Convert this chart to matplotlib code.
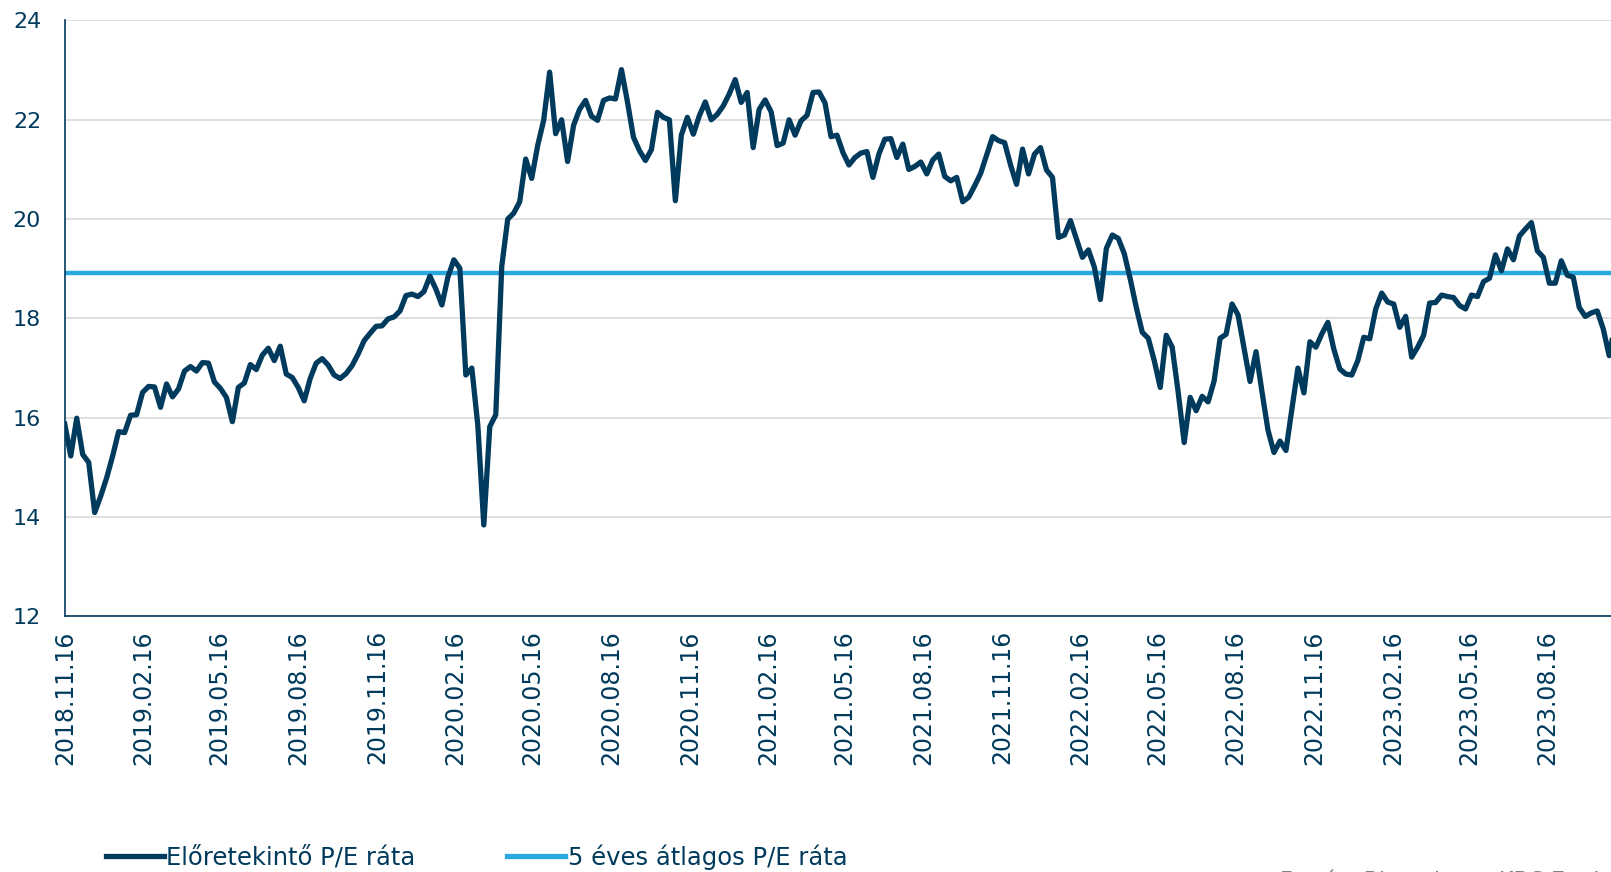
#Forward P/E ratio vs 5 year average - line chart

import numpy as np
import pandas as pd
import matplotlib
matplotlib.use('Agg')
import matplotlib.pyplot as plt
import matplotlib.dates as mdates
from matplotlib.lines import Line2D

#weekly data
start_date = '2018-11-16'
pe_fwd = [15.87, 15.23, 15.99, 15.26, 15.10, 14.09, 14.42, 14.79, 15.23, 15.72,
          15.70, 16.05, 16.06, 16.51, 16.63, 16.62, 16.21, 16.68, 16.42, 16.58,
          16.94, 17.03, 16.94, 17.11, 17.10, 16.72, 16.59, 16.41, 15.92, 16.61,
          16.70, 17.07, 16.97, 17.26, 17.40, 17.15, 17.44, 16.88, 16.81, 16.61,
          16.34, 16.79, 17.10, 17.19, 17.06, 16.86, 16.79, 16.89, 17.05, 17.28,
          17.55, 17.70, 17.84, 17.85, 17.99, 18.03, 18.15, 18.46, 18.49, 18.44,
          18.54, 18.85, 18.59, 18.27, 18.83, 19.18, 19.01, 16.86, 17.00, 15.85,
          13.84, 15.82, 16.06, 19.05, 20.00, 20.12, 20.35, 21.21, 20.82, 21.48,
          21.99, 22.96, 21.72, 22.00, 21.16, 21.89, 22.21, 22.39, 22.07, 21.99,
          22.39, 22.44, 22.42, 23.01, 22.36, 21.65, 21.38, 21.18, 21.40, 22.15,
          22.05, 22.00, 20.37, 21.69, 22.05, 21.71, 22.08, 22.36, 22.00, 22.11,
          22.28, 22.52, 22.81, 22.35, 22.55, 21.44, 22.21, 22.40, 22.16, 21.48,
          21.53, 22.00, 21.69, 21.98, 22.09, 22.55, 22.56, 22.34, 21.66, 21.69,
          21.34, 21.09, 21.24, 21.33, 21.36, 20.84, 21.31, 21.61, 21.62, 21.24,
          21.51, 21.00, 21.06, 21.15, 20.91, 21.19, 21.31, 20.86, 20.77, 20.84,
          20.35, 20.44, 20.67, 20.92, 21.29, 21.66, 21.58, 21.54, 21.09, 20.70,
          21.41, 20.91, 21.31, 21.44, 20.99, 20.84, 19.63, 19.68, 19.97, 19.60,
          19.23, 19.38, 19.03, 18.38, 19.41, 19.68, 19.61, 19.30, 18.79, 18.22,
          17.72, 17.60, 17.15, 16.61, 17.66, 17.42, 16.51, 15.50, 16.41, 16.14,
          16.43, 16.32, 16.74, 17.60, 17.68, 18.29, 18.07, 17.40, 16.73, 17.33,
          16.52, 15.75, 15.30, 15.53, 15.34, 16.18, 17.00, 16.50, 17.53, 17.42,
          17.69, 17.92, 17.38, 16.98, 16.88, 16.86, 17.15, 17.62, 17.59, 18.19,
          18.51, 18.33, 18.29, 17.82, 18.04, 17.22, 17.42, 17.66, 18.31, 18.32,
          18.47, 18.44, 18.42, 18.26, 18.19, 18.47, 18.44, 18.74, 18.81, 19.28,
          18.96, 19.40, 19.18, 19.66, 19.80, 19.93, 19.36, 19.23, 18.71, 18.71,
          19.16, 18.87, 18.83, 18.22, 18.04, 18.11, 18.15, 17.79, 17.25, 17.90]
pe_avg5 = 18.92

yticks = [12, 14, 16, 18, 20, 22, 24]
n_xticks = 20
labels = ['Előretekintő P/E ráta', '5 éves átlagos P/E ráta']
source = 'Forrás: Bloomberg, KBC Equitas'

dates = pd.date_range(start_date, periods=len(pe_fwd), freq='7D')
tick_dates = pd.date_range(start_date, periods=n_xticks, freq=pd.DateOffset(months=3))

navy = '#003a5c'
blue = '#29a9e0'

fig = plt.figure(figsize=(16.11, 8.72), dpi=100)
ax = fig.add_axes([0.0402, 0.2932, 0.9598, 0.6833])

ax.plot(dates, pe_fwd, color=navy, lw=3.8, solid_joinstyle='round', zorder=3)
ax.plot([dates[0], dates[-1]], [pe_avg5, pe_avg5], color=blue, lw=3.2, zorder=2)

ax.set_ylim(12, 24)
ax.set_yticks(yticks)
ax.set_xlim(dates[0], dates[0] + pd.Timedelta(days=258.3 * 7))
ax.set_xticks(tick_dates)
ax.xaxis.set_major_formatter(mdates.DateFormatter('%Y.%m.%d'))

ax.grid(axis='y', color='#d9d9d9', lw=1.2)
ax.set_axisbelow(True)
for s in ['top', 'right']:
    ax.spines[s].set_visible(False)
for s in ['left', 'bottom']:
    ax.spines[s].set_color(navy)
    ax.spines[s].set_linewidth(1.2)

ax.tick_params(axis='y', length=0, pad=17, labelsize=16, labelcolor=navy)
ax.tick_params(axis='x', length=0, pad=10, labelsize=17, labelcolor=navy,
               labelrotation=90)

#legend drawn by hand below the chart
fig.add_artist(Line2D([106/1611, 164/1611], [1-856/872, 1-856/872],
                      color=navy, lw=3.8))
fig.text(166/1611, 1-857/872, labels[0], fontsize=17.5, color=navy, va='center')
fig.add_artist(Line2D([507/1611, 565/1611], [1-856/872, 1-856/872],
                      color=blue, lw=3.8))
fig.text(568/1611, 1-857/872, labels[1], fontsize=17.5, color=navy, va='center')

fig.text(1280/1611, 1-869/872, source, fontsize=16, color='#7f7f7f', va='top')

plt.savefig('out.png', dpi=100)
